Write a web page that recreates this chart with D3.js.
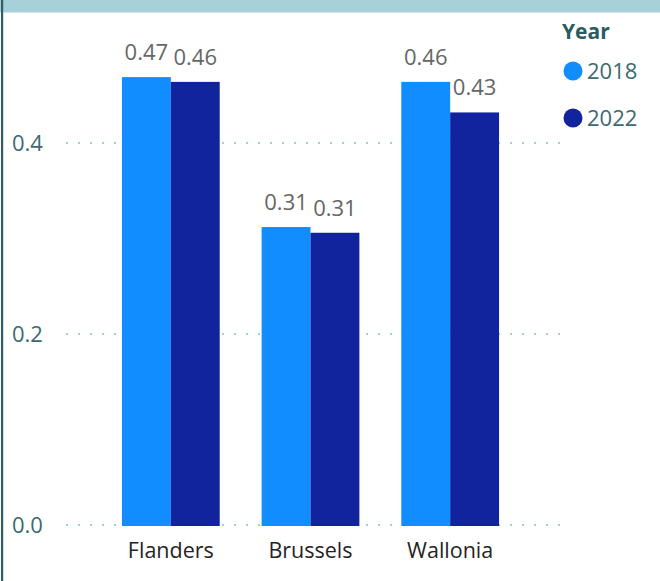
<!DOCTYPE html>
<html>
<head>
<meta charset="utf-8">
<script src="https://cdn.jsdelivr.net/npm/d3@7"></script>
<style>
  html, body { margin: 0; padding: 0; background: #fff; }
  svg { display: block; font-family: "Open Sans", "Noto Sans", sans-serif; }
</style>
</head>
<body>
<svg id="chart" width="660" height="581"></svg>
<script>
// data
const regions = ['Flanders', 'Brussels', 'Wallonia'];
const years   = ['2018', '2022'];
const v2018   = [0.469, 0.312, 0.464];
const v2022   = [0.464, 0.306, 0.432];
const yTicks  = [0.0, 0.2, 0.4];

const COLORS = { '2018': '#118DFF', '2022': '#12239E' };

const W = 660, H = 581;
const svg = d3.select('#chart');

// frame: teal band on top, dark rule on the left
svg.append('rect').attr('x', 0).attr('y', 0).attr('width', W).attr('height', 12.5).attr('fill', '#A7D1D8');
svg.append('rect').attr('x', 1).attr('y', 0).attr('width', 2.2).attr('height', H).attr('fill', '#2F5E63');

const y = d3.scaleLinear().domain([0, 0.2]).range([525, 334]);
const x = d3.scaleBand().domain(regions).range([101, 520]).paddingInner(0.3).paddingOuter(0.15);
const xs = d3.scaleBand().domain(years).range([0, x.bandwidth()]);

// dotted gridlines + tick labels
const grid = svg.append('g');
grid.selectAll('line').data(yTicks).join('line')
  .attr('x1', 66).attr('x2', 562)
  .attr('y1', d => y(d)).attr('y2', d => y(d))
  .attr('stroke', '#A3CFD7').attr('stroke-width', 2)
  .attr('stroke-dasharray', '2 10');
grid.selectAll('text').data(yTicks).join('text')
  .attr('x', 12).attr('y', d => y(d)).attr('dy', '0.35em')
  .attr('fill', '#3B6A70').attr('font-size', 22)
  .text(d => d3.format('.1f')(d));

// bars
const rows = regions.map((r, i) => ({ region: r, vals: [
  { year: '2018', v: v2018[i] }, { year: '2022', v: v2022[i] } ] }));

const grp = svg.append('g').selectAll('g').data(rows).join('g')
  .attr('transform', d => `translate(${x(d.region)},0)`);

grp.selectAll('rect').data(d => d.vals).join('rect')
  .attr('x', d => xs(d.year)).attr('width', xs.bandwidth())
  .attr('y', d => y(d.v)).attr('height', d => y(0) - y(d.v) + 1)
  .attr('fill', d => COLORS[d.year]);

grp.selectAll('text').data(d => d.vals).join('text')
  .attr('x', d => xs(d.year) + xs.bandwidth() / 2)
  .attr('y', d => y(d.v) - 17)
  .attr('text-anchor', 'middle').attr('fill', '#666666').attr('font-size', 22)
  .text(d => d3.format('.2f')(d.v));

// category labels
svg.append('g').selectAll('text').data(regions).join('text')
  .attr('x', d => x(d) + x.bandwidth() / 2).attr('y', 558)
  .attr('text-anchor', 'middle').attr('fill', '#252423').attr('font-size', 21.5)
  .text(d => d);

// legend
const lg = svg.append('g');
lg.append('text').attr('x', 562).attr('y', 39).attr('font-size', 21).attr('font-weight', 'bold')
  .attr('fill', '#2A5C62').text('Year');
const item = lg.selectAll('g').data(years).join('g')
  .attr('transform', (d, i) => `translate(0,${71 + i * 47})`);
item.append('circle').attr('cx', 573).attr('cy', 0).attr('r', 9.5).attr('fill', d => COLORS[d]);
item.append('text').attr('x', 587).attr('y', 0).attr('dy', '0.35em')
  .attr('font-size', 22).attr('fill', '#3B6A70').text(d => d);
</script>
</body>
</html>
